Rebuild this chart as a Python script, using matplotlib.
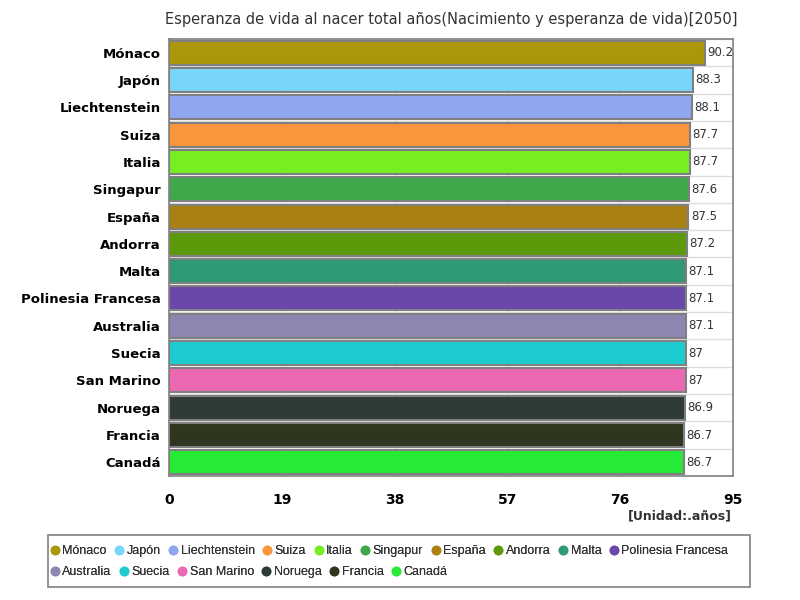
import matplotlib
matplotlib.use("Agg")
import matplotlib.pyplot as plt
from matplotlib.lines import Line2D
from matplotlib.patches import Rectangle

countries = ["Mónaco", "Japón", "Liechtenstein", "Suiza", "Italia", "Singapur", "España", "Andorra",
             "Malta", "Polinesia Francesa", "Australia", "Suecia", "San Marino", "Noruega", "Francia", "Canadá"]
values = [90.2, 88.3, 88.1, 87.7, 87.7, 87.6, 87.5, 87.2, 87.1, 87.1, 87.1, 87, 87, 86.9, 86.7, 86.7]
value_labels = ["90.2", "88.3", "88.1", "87.7", "87.7", "87.6", "87.5", "87.2", "87.1", "87.1", "87.1", "87", "87", "86.9", "86.7", "86.7"]
colors = ["#ac9709", "#79d5fb", "#8fa6f0", "#fb953b", "#77ee22", "#3ea84a", "#a88112", "#5d9a0a",
          "#2f9a73", "#6a48aa", "#8c86b0", "#1ccbd0", "#eb69b3", "#2f3b35", "#2e3620", "#26ea36"]
xticks = [0, 19, 38, 57, 76, 95]
title = "Esperanza de vida al nacer total años(Nacimiento y esperanza de vida)[2050]"
unit = "[Unidad:.años]"

plt.rcParams['font.family'] = ['DejaVu Sans']
fig = plt.figure(figsize=(8, 6), dpi=100)
ax = fig.add_axes([0.21125, 0.2067, 0.705, 0.7283])

n = len(countries)
ypos = list(range(n))
ax.barh(ypos, values, height=0.88, color=colors, edgecolor="#808080", linewidth=1.5, zorder=3)
ax.set_ylim(n - 0.5, -0.5)
ax.set_xlim(0, 95)
ax.set_yticks(ypos)
ax.set_yticklabels(countries, fontsize=9.5, fontweight="bold")
ax.set_xticks(xticks)
ax.set_xticklabels([str(t) for t in xticks], fontsize=10, fontweight="bold")
ax.tick_params(axis="both", length=0)
ax.tick_params(axis="x", pad=12)
ax.tick_params(axis="y", pad=6)
for x in xticks:
    ax.axvline(x, color="#dddddd", linewidth=1, zorder=1)
for i in range(n + 1):
    ax.axhline(i - 0.5, color="#dddddd", linewidth=1, zorder=1)
for s in ax.spines.values():
    s.set_color("#808080")
    s.set_linewidth(1.2)

for i, (v, lab) in enumerate(zip(values, value_labels)):
    ax.text(v + 0.4, i, lab, va="center", ha="left", fontsize=8.5, color="#333333", zorder=4)

fig.text(0.564, 0.967, title, ha="center", va="center", fontsize=10.5, color="#333333")
fig.text(0.915, 0.14, unit, ha="right", va="center", fontsize=9, fontweight="bold", color="#333333")

# legend frame
fig.patches.append(Rectangle((0.06, 0.022), 0.8775, 0.086, transform=fig.transFigure,
                             fill=False, edgecolor="#808080", linewidth=1.2))

def make_handles(cols):
    return [Line2D([0], [0], marker="o", linestyle="", markersize=6,
                   markerfacecolor=c, markeredgecolor=c) for c in cols]

rows = [(0, 10, 0.0817), (10, 16, 0.0467)]
for a, b, yc in rows:
    leg = fig.legend(make_handles(colors[a:b]), countries[a:b], loc="center left",
                     bbox_to_anchor=(0.062, yc), ncol=b - a, frameon=False,
                     handletextpad=0.2, columnspacing=0.6, borderpad=0.0, handlelength=0.8,
                     borderaxespad=0.0, prop={"family": "Liberation Sans", "size": 9})
    for t in leg.get_texts():
        t.set_color("#333333")
    fig.add_artist(leg)

fig.savefig("out.png", dpi=100)
